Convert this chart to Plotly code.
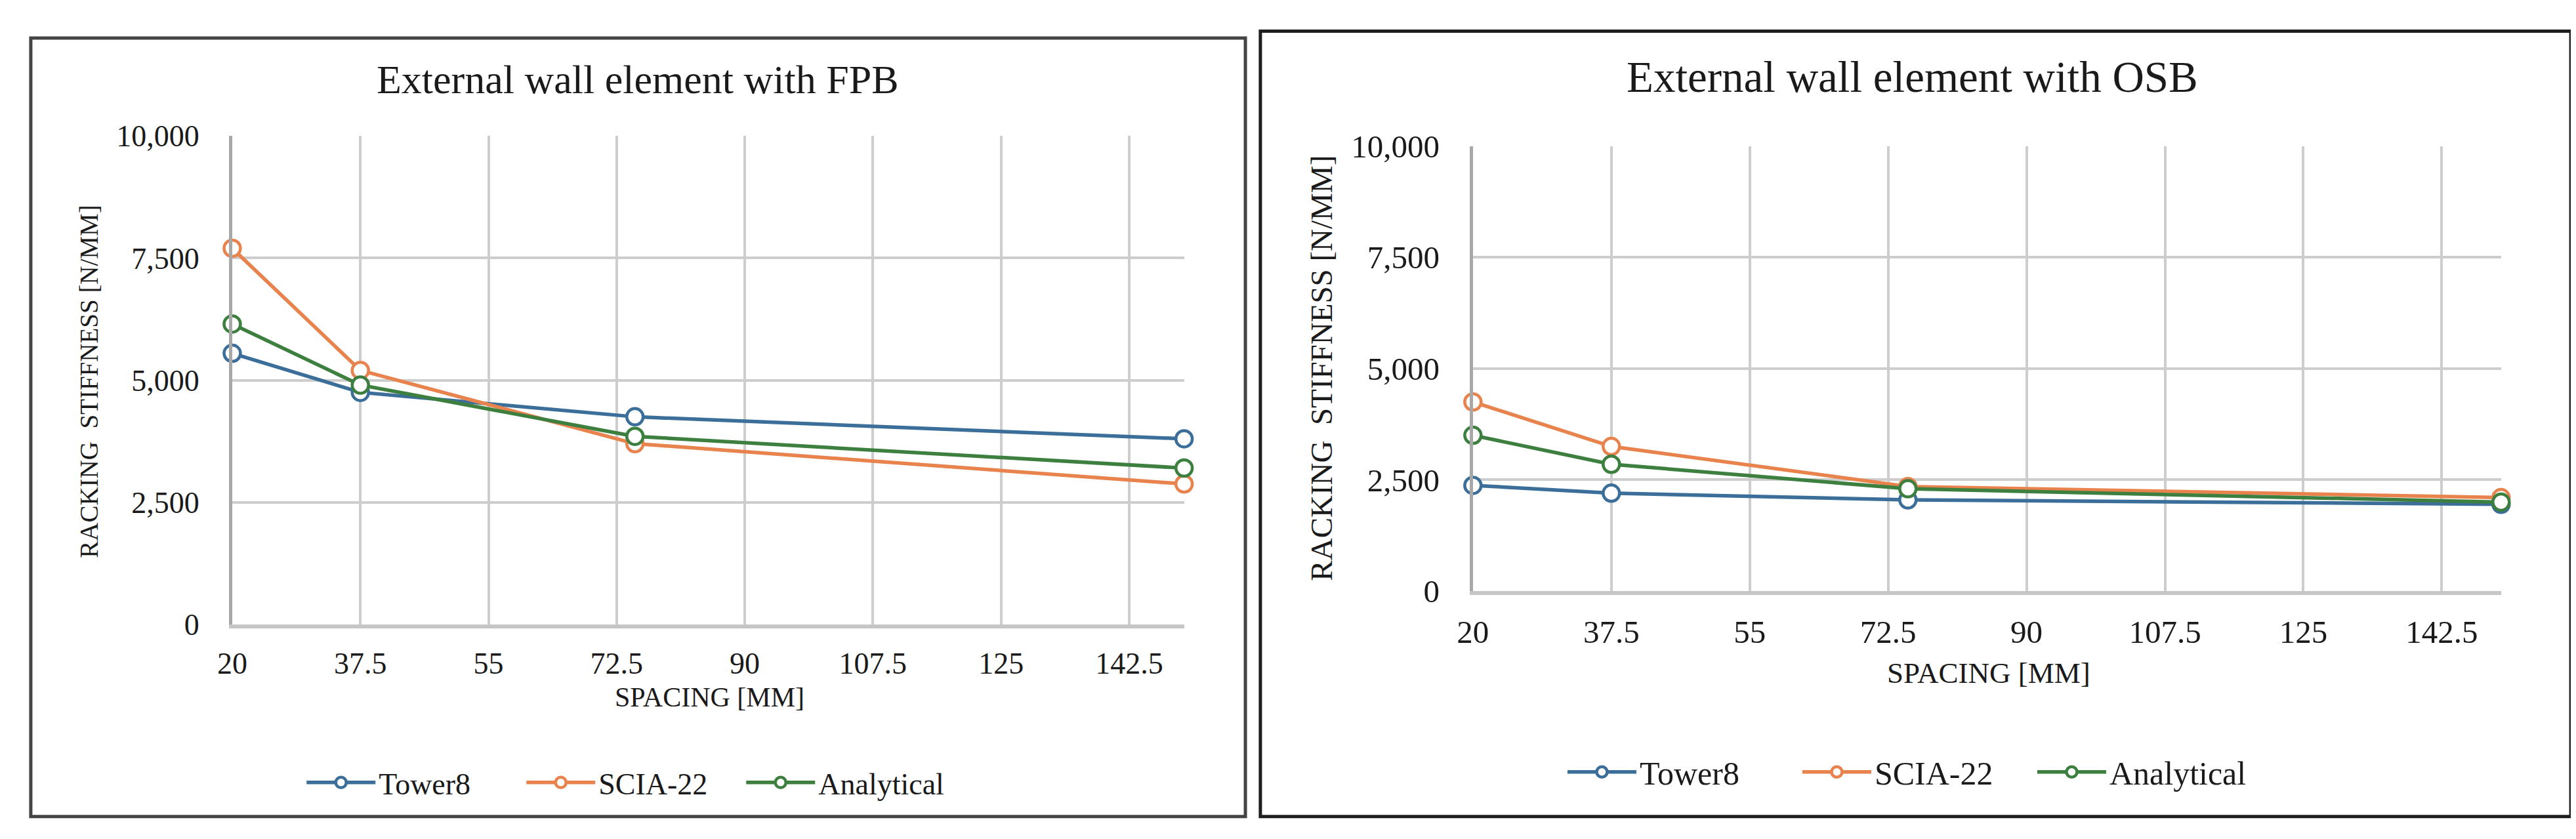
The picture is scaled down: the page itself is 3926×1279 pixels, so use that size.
import plotly.graph_objects as go

W, H = 3926, 1279

spacing = [20, 37.5, 75, 150]
series_names = ["Tower8", "SCIA-22", "Analytical"]
colors = ["#3b6f99", "#e8834e", "#3c7f3f"]

fpb_tower8 = [5550, 4750, 4250, 3800]
fpb_scia22 = [7700, 5200, 3700, 2875]
fpb_analytical = [6150, 4900, 3850, 3200]

osb_tower8 = [2375, 2200, 2050, 1950]
osb_scia22 = [4250, 3250, 2350, 2100]
osb_analytical = [3500, 2850, 2300, 2000]

x_tickvals = [20, 37.5, 55, 72.5, 90, 107.5, 125, 142.5]
x_ticktext = ["20", "37.5", "55", "72.5", "90", "107.5", "125", "142.5"]
y_tickvals = [0, 2500, 5000, 7500, 10000]
y_ticktext = ["0", "2,500", "5,000", "7,500", "10,000"]

titles = ["External wall element with FPB", "External wall element with OSB"]
x_title = "SPACING [MM]"
y_title = "RACKING  STIFFNESS [N/MM]"

FONT = "Liberation Serif"
TXT = "#1a1a1a"

def px(x):
    return x / W

def py(y):
    return 1 - y / H

fig = go.Figure()

panels = [
    dict(data=[fpb_tower8, fpb_scia22, fpb_analytical], xa="x", ya="y", legend="legend"),
    dict(data=[osb_tower8, osb_scia22, osb_analytical], xa="x2", ya="y2", legend="legend2"),
]

for p in panels:
    for name, vals, col in zip(series_names, p["data"], colors):
        fig.add_trace(go.Scatter(
            x=spacing, y=vals, name=name, mode="lines+markers",
            xaxis=p["xa"], yaxis=p["ya"], legend=p["legend"],
            line=dict(color=col, width=5.5),
            marker=dict(symbol="circle", size=25, color="white", line=dict(color=col, width=4.5)),
            cliponaxis=False,
        ))

def axis_x(fs):
    return dict(
        range=[20, 150], tickmode="array", tickvals=x_tickvals, ticktext=x_ticktext,
        showgrid=True, gridcolor="#cdcdcd", gridwidth=4, zeroline=False,
        showline=True, linecolor="#c6c6c6", linewidth=6, ticks="",
        tickfont=dict(family=FONT, size=fs, color=TXT), ticklabelstandoff=14,
    )

def axis_y(fs):
    return dict(
        range=[0, 10000], tickmode="array", tickvals=y_tickvals, ticktext=y_ticktext,
        showgrid=True, gridcolor="#cdcdcd", gridwidth=4, zeroline=False,
        showline=True, linecolor="#a8a8a8", linewidth=5, ticks="",
        tickfont=dict(family=FONT, size=fs, color=TXT), ticklabelstandoff=36,
    )

def legend_cfg(x, y, fs, ew):
    return dict(orientation="h", xanchor="left", yanchor="middle", x=x, y=y,
                font=dict(family=FONT, size=fs, color=TXT), bgcolor="rgba(0,0,0,0)",
                itemwidth=105, tracegroupgap=0, entrywidth=ew)

fig.update_layout(
    width=W, height=H, margin=dict(l=0, r=0, t=0, b=0),
    paper_bgcolor="white", plot_bgcolor="white",
    showlegend=True,
    xaxis=dict(domain=[px(323), px(1783)], anchor="y", **axis_x(46)),
    yaxis=dict(domain=[py(958), py(180)], anchor="x", **axis_y(46)),
    xaxis2=dict(domain=[px(2226), px(3803)], anchor="y2", **axis_x(49)),
    yaxis2=dict(domain=[py(905), py(196)], anchor="x2", **axis_y(49)),
    legend=legend_cfg(px(432), py(1210), 46, 215),
    legend2=legend_cfg(px(2366), py(1193), 50, 238),
)

# panel borders
fig.add_shape(type="rect", xref="paper", yref="paper",
              x0=px(14), x1=px(1877), y0=py(1264), y1=py(24),
              line=dict(color="#444444", width=5), layer="above")
fig.add_shape(type="rect", xref="paper", yref="paper",
              x0=px(1900), x1=px(3910), y0=py(1264), y1=py(13),
              line=dict(color="#1e1e1e", width=5), layer="above")

# titles
for t, (cx, cy), fs in zip(titles, [(945, 90), (2900, 86)], [62, 67]):
    fig.add_annotation(text=t, xref="paper", yref="paper", x=px(cx), y=py(cy),
                       xanchor="center", yanchor="middle", showarrow=False,
                       font=dict(family=FONT, size=fs, color=TXT))

# axis titles
for (cx, cy), fs in zip([(1055, 1074), (3017, 1036)], [42, 45]):
    fig.add_annotation(text=x_title, xref="paper", yref="paper", x=px(cx), y=py(cy),
                       xanchor="center", yanchor="middle", showarrow=False,
                       font=dict(family=FONT, size=fs, color=TXT))
for (cx, cy), fs in zip([(103, 571), (1994, 550)], [39, 47]):
    fig.add_annotation(text=y_title, xref="paper", yref="paper", x=px(cx), y=py(cy),
                       xanchor="center", yanchor="middle", showarrow=False, textangle=-90,
                       font=dict(family=FONT, size=fs, color=TXT))

fig.write_html("out.html")
